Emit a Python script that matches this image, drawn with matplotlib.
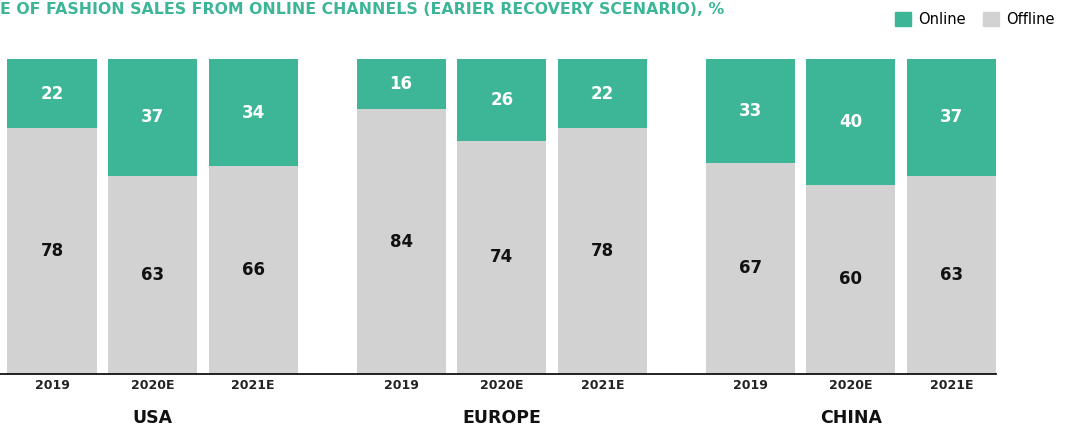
import numpy as np
import matplotlib.pyplot as plt

regions = ["USA", "EUROPE", "CHINA"]
years = ["2019", "2020E", "2021E"]
online = [[22, 37, 34], [16, 26, 22], [33, 40, 37]]
offline = [[78, 63, 66], [84, 74, 78], [67, 60, 63]]

teal = "#3db597"
grey = "#d2d2d2"

fig = plt.figure(figsize=(10.68, 4.28), dpi=100)
ax = fig.add_axes([0, 1 - 374 / 428, 996 / 1068, (374 - 59) / 428])

group_gap = 3.47
w = 0.885
for g, reg in enumerate(regions):
    xs = g * group_gap + np.arange(len(years))
    off = np.array(offline[g])
    on = np.array(online[g])
    ax.bar(xs, off, width=w, color=grey)
    ax.bar(xs, on, width=w, bottom=off, color=teal)
    for x, yr, a, b in zip(xs, years, off, on):
        ax.text(x, a / 2, str(a), ha="center", va="center", fontsize=12,
                fontweight="semibold", color="#111111")
        ax.text(x, a + b / 2, str(b), ha="center", va="center", fontsize=12,
                fontweight="semibold", color="white")
        ax.text(x, -3.8, yr, ha="center", va="center",
                fontsize=9, fontweight="bold", color="#222222")
    ax.text(xs[1], -14.0, reg, ha="center", va="center", fontsize=12.5,
            fontweight="semibold", color="#111111")

ax.set_xlim(-0.517, 2 * group_gap + 2 + w / 2)
ax.set_ylim(0, 100)
for s in ["top", "right", "left"]:
    ax.spines[s].set_visible(False)
ax.spines["bottom"].set_linewidth(1.3)
ax.spines["bottom"].set_color("#111111")
ax.set_xticks([])
ax.set_yticks([])

fig.text(0.0, 1 - 10 / 428,
         "E OF FASHION SALES FROM ONLINE CHANNELS (EARIER RECOVERY SCENARIO), %",
         ha="left", va="center", fontsize=11.3, fontweight="bold", color=teal)

handles = [plt.Rectangle((0, 0), 1, 1, color=teal),
           plt.Rectangle((0, 0), 1, 1, color=grey)]
fig.legend(handles, ["Online", "Offline"], loc="center right",
           bbox_to_anchor=(1.0, 1 - 19 / 428), ncol=2, frameon=False,
           fontsize=10.5, handlelength=1.1, handleheight=1.1,
           columnspacing=1.2, handletextpad=0.5)

fig.savefig("out.png", dpi=100)
